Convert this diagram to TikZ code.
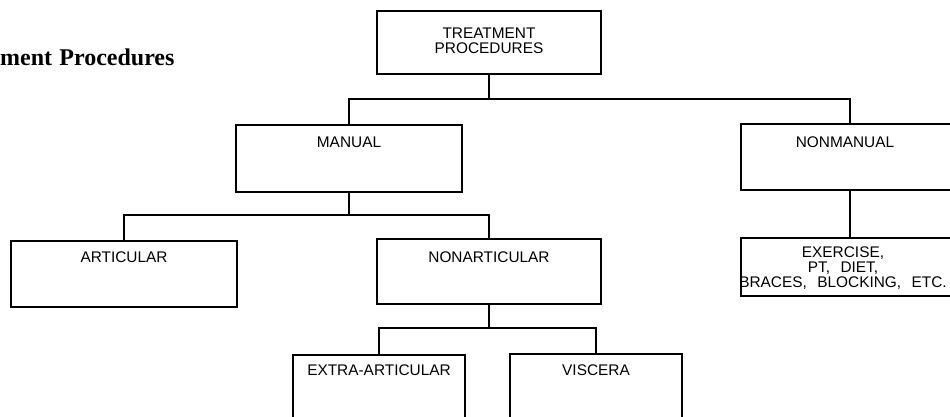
\documentclass[tikz,border=0pt]{standalone}
\usepackage{fontspec}
\setmainfont{Liberation Serif}
\newfontfamily\boxfont{Liberation Sans}
\begin{document}
\begin{tikzpicture}[x=1pt,y=-1pt,
  box/.style={draw, line width=1.1pt, rectangle, inner sep=0pt, outer sep=0pt},
  boxlbl/.style={anchor=north, inner sep=0pt, align=center,
     font=\boxfont\fontsize{15.4}{15}\selectfont},
  link/.style={draw, line width=1.1pt}
]
\useasboundingbox (0,0) rectangle (950,416);
\clip (0,0) rectangle (950,416);
\fill[white] (0,0) rectangle (950,416);

\node[anchor=base west, inner sep=0pt, font=\bfseries\fontsize{24}{26}\selectfont] (title) at (0,65) {ment\hspace{0.3em}Procedures};

\node[box, minimum width=224pt, minimum height=63pt,
  label={[boxlbl, yshift=-17pt]north:{TREATMENT\\PROCEDURES}}] (tp) at (489,42.5) {};
\node[box, minimum width=226pt, minimum height=67pt,
  label={[boxlbl, yshift=-12pt]north:MANUAL}] (man) at (349,158.5) {};
\node[box, minimum width=210pt, minimum height=66pt,
  label={[boxlbl, yshift=-13pt, xshift=-1pt]north:NONMANUAL}] (nonman) at (846,157) {};
\node[box, minimum width=226pt, minimum height=66pt,
  label={[boxlbl, yshift=-11pt]north:ARTICULAR}] (art) at (124,274) {};
\node[box, minimum width=224pt, minimum height=65pt,
  label={[boxlbl, yshift=-13pt]north:NONARTICULAR}] (nonart) at (489,271.5) {};
\node[box, minimum width=210pt, minimum height=58pt,
  label={[boxlbl, yshift=-9pt, xshift=-3pt]north:{EXERCISE,\\PT,\hspace{0.4em} DIET,\\BRACES,\hspace{0.4em} BLOCKING,\hspace{0.4em} ETC.}}] (exer) at (846,267) {};
\node[box, minimum width=172pt, minimum height=80pt,
  label={[boxlbl, yshift=-10pt]north:EXTRA-ARTICULAR}] (extra) at (379,395) {};
\node[box, minimum width=172pt, minimum height=80pt,
  label={[boxlbl, yshift=-11pt]north:VISCERA}] (visc) at (596,394) {};

\coordinate (j1) at ([yshift=-25pt]tp.south);
\coordinate (nmtop) at ([xshift=109pt]nonman.north west);
\coordinate (nmbot) at ([xshift=109pt]nonman.south west);
\coordinate (extop) at ([xshift=109pt]exer.north west);
\coordinate (j2) at ([yshift=-23pt]man.south);
\coordinate (j3) at ([yshift=-24pt]nonart.south);

\path[link] (tp.south) -- (j1);
\path[link] (man.north) |- (j1) -| (nmtop);
\path[link] (nmbot) -- (extop);
\path[link] (man.south) -- (j2);
\path[link] (art.north) |- (j2) -| (nonart.north);
\path[link] (nonart.south) -- (j3);
\path[link] (extra.north) |- (j3) -| (visc.north);
\end{tikzpicture}
\end{document}
